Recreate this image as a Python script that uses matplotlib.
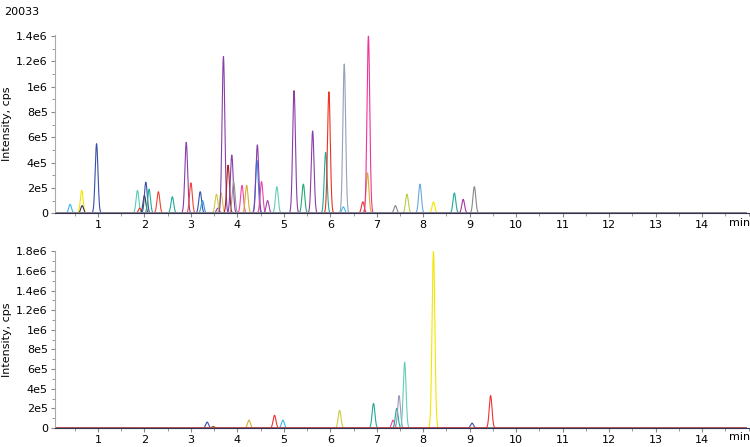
import numpy as np
import matplotlib
matplotlib.use('Agg')
import matplotlib.pyplot as plt
from matplotlib.ticker import MultipleLocator, FuncFormatter

# peak tables: retention time (min), height (cps), colour
top_rt = [0.40, 0.65, 0.66, 0.97, 1.85, 1.90, 2.00, 2.03, 2.10, 2.30, 2.60, 2.90, 3.00,
          3.20, 3.25, 3.55, 3.58, 3.65, 3.70, 3.80, 3.88, 3.92, 4.10, 4.20, 4.42, 4.43,
          4.52, 4.65, 4.85, 5.22, 5.42, 5.62, 5.90, 5.97, 6.28, 6.30, 6.70, 6.80, 6.82,
          7.40, 7.65, 7.93, 8.22, 8.67, 8.86, 9.10]
top_h = [7e4, 1.8e5, 6e4, 5.5e5, 1.8e5, 4e4, 1.4e5, 2.45e5, 1.9e5, 1.7e5, 1.3e5, 5.6e5, 2.4e5,
         1.7e5, 1e5, 1.5e5, 4e4, 1.6e5, 1.24e6, 3.8e5, 4.6e5, 2.5e5, 2.2e5, 2.2e5, 4.2e5, 5.4e5,
         2.5e5, 1e5, 2.1e5, 9.7e5, 2.3e5, 6.5e5, 4.8e5, 9.6e5, 5e4, 1.18e6, 9e4, 3.2e5, 1.4e6,
         6e4, 1.5e5, 2.3e5, 9e4, 1.6e5, 1.1e5, 2.1e5]
top_c = ['#33bbee', '#f2e600', '#333366', '#3850a8', '#55ccbb', '#ee3333', '#444444', '#3850a8',
         '#22aa99', '#ee4433', '#22aa99', '#8a3ea8', '#ee4433', '#3850a8', '#3399dd', '#cccc44',
         '#8a3ea8', '#d4c050', '#8a3ea8', '#aa2222', '#8a3ea8', '#999999', '#ee44aa', '#d4b030',
         '#2299ee', '#8a3ea8', '#ee44aa', '#9944aa', '#66ccbb', '#8a3ea8', '#22aa77', '#8a3ea8',
         '#22aa99', '#ee3322', '#33bbee', '#99a0b8', '#ee3333', '#d4b030', '#ee3399', '#888899',
         '#bbcc44', '#66aadd', '#f2e600', '#22aa99', '#aa33aa', '#888888']

bot_rt = [3.35, 3.48, 4.25, 4.80, 4.98, 6.20, 6.93, 7.35, 7.43, 7.48, 7.60, 8.22, 9.05, 9.45]
bot_h = [6e4, 1.5e4, 8e4, 1.3e5, 8e4, 1.8e5, 2.5e5, 8e4, 2e5, 3.3e5, 6.7e5, 1.8e6, 5e4, 3.3e5]
bot_c = ['#3850a8', '#885522', '#d4b030', '#ee3333', '#33bbee', '#cccc44', '#22aa99',
         '#ee44aa', '#22aa99', '#9999bb', '#66ccbb', '#f2e600', '#3850a8', '#ee3333']

t = np.linspace(0.05, 14.95, 6000)


def fmt(v, pos):
    if v <= 0:
        return '0'
    e = int(np.floor(np.log10(v) + 1e-9))
    m = v / 10 ** e
    return '%ge%d' % (round(m, 1), e)


def draw(ax, rts, hs, cs, ymax):
    ax.plot(t, np.full_like(t, 2e3), color='#333366', lw=0.8)
    for rt, h, c in zip(rts, hs, cs):
        y = h * np.exp(-0.5 * ((t - rt) / 0.03) ** 2)
        ax.plot(t, y, color=c, lw=0.8)
    ax.set_xlim(0.07, 15.0)
    ax.set_ylim(0, ymax)
    ax.set_xticks(range(1, 15))
    ax.xaxis.set_minor_locator(MultipleLocator(0.5))
    ax.yaxis.set_major_locator(MultipleLocator(2e5))
    ax.yaxis.set_minor_locator(MultipleLocator(1e5))
    ax.yaxis.set_major_formatter(FuncFormatter(fmt))
    for s in ['top', 'right']:
        ax.spines[s].set_visible(False)
    ax.spines['left'].set_color('#aaaaaa')
    ax.spines['bottom'].set_color('#333355')
    ax.tick_params(labelsize=8, length=3, color='#888888', pad=2)
    ax.tick_params(which='minor', length=2, color='#888888')
    ax.set_ylabel('Intensity, cps', fontsize=8)
    ax.yaxis.set_label_coords(-0.062, 0.5)
    ax.text(0.972, -0.025, 'min', transform=ax.transAxes, fontsize=8, va='top')


fig = plt.figure(figsize=(7.5, 4.47), dpi=100)
ax1 = fig.add_axes([0.073, 0.523, 0.925, 0.399])
ax2 = fig.add_axes([0.073, 0.0425, 0.925, 0.3955])
draw(ax1, top_rt, top_h, top_c, 1.41e6)
draw(ax2, bot_rt, bot_h, bot_c, 1.8e6)
fig.text(0.005, 0.985, '20033', fontsize=8, va='top')
fig.savefig('out.png', dpi=100)
